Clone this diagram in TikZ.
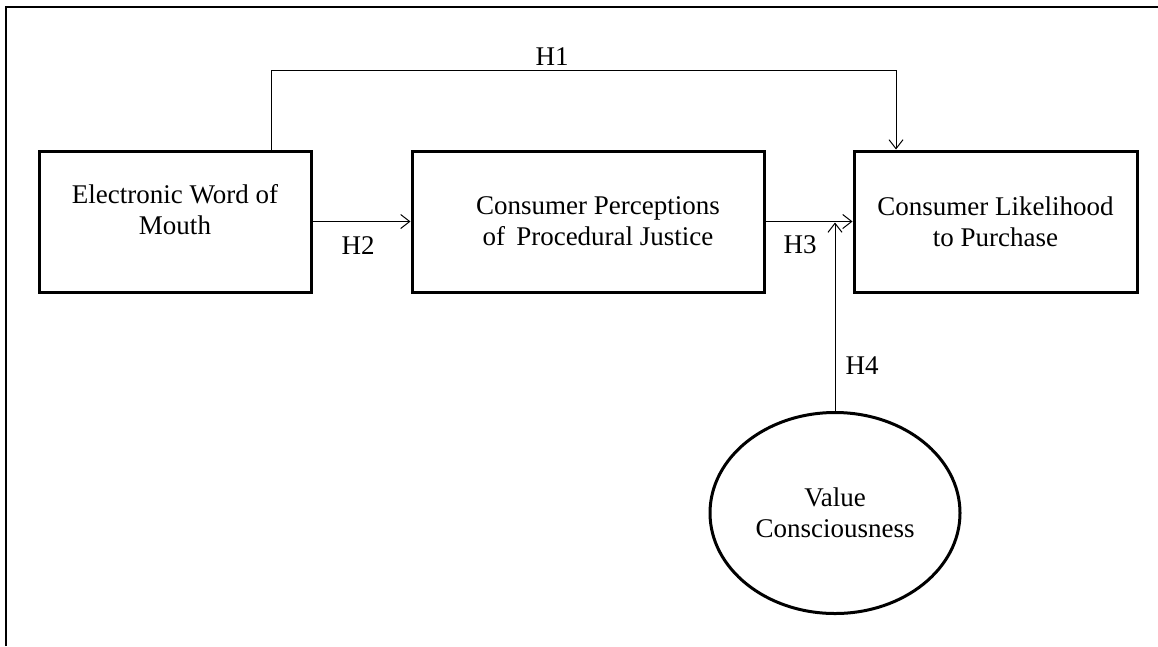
\documentclass[tikz,border=0pt]{standalone}
\usepackage{fontspec}
\setmainfont{Liberation Serif}
\usetikzlibrary{shapes.geometric,arrows.meta}
\tikzset{
  lbl/.style={font=\fontsize{27}{31}\selectfont, align=center},
  box/.style={draw, line width=3pt, rectangle, minimum height=141pt, inner sep=0pt, lbl},
  oval/.style={draw, line width=3pt, ellipse, minimum width=250pt, minimum height=201pt, inner sep=0pt, lbl},
  link/.style={draw, line width=1pt, -{Straight Barb[length=9pt,width=14pt,line width=1pt]}},
  hyp/.style={font=\fontsize{27}{31}\selectfont, anchor=base, inner sep=0pt},
  frame/.style={draw, line width=2.5pt}
}
\begin{document}
\begin{tikzpicture}[x=1pt,y=-1pt]
\useasboundingbox (0,0) rectangle (1158,646);
\draw[frame] (6,646) -- (6,7) -- (1158,7);

\node[box, minimum width=272pt] (ewom) at (175,221.5) {Electronic Word of\\Mouth\rule[-24pt]{0pt}{0pt}};
\node[box, minimum width=352pt] (cppj) at (588,221.5) {\hspace*{20pt}Consumer Perceptions\\\hspace*{20pt}of\, Procedural Justice};
\node[box, minimum width=283pt] (clp) at (995.5,221.5) {Consumer Likelihood\\to Purchase};
\node[oval] (vc) at (835,513) {Value\\Consciousness};

\coordinate (h1l) at (271,70);
\coordinate (h1r) at (896,70);
\coordinate (h4end) at (835,222.5);

\draw[link] (ewom.north -| h1l) -- (h1l) -- (h1r) -- (clp.north -| h1r);
\draw[link] (ewom.east) -- (cppj.west);
\draw[link] (cppj.east) -- (clp.west);
\draw[link] (vc.north) -- (h4end);

\node[hyp] (H1) at (552,65) {H1};
\node[hyp] (H2) at (358,254) {H2};
\node[hyp] (H3) at (800,253) {H3};
\node[hyp] (H4) at (862,374) {H4};
\end{tikzpicture}
\end{document}
